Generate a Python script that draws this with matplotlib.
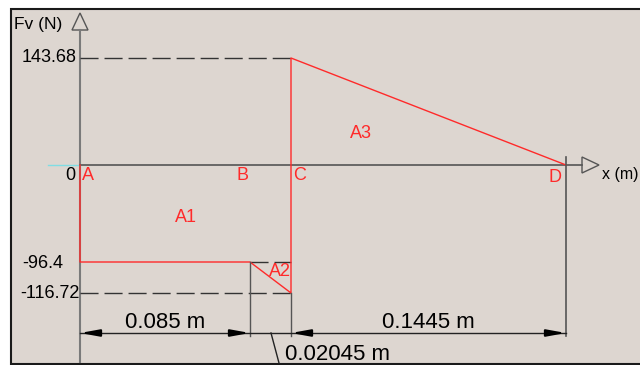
import numpy as np
import matplotlib.pyplot as plt
from matplotlib.patches import Rectangle, Polygon

plt.rcParams['font.family'] = ['Liberation Sans', 'DejaVu Sans']

# shear force diagram data
seg_len = [0.085, 0.02045, 0.1445]      # m, A-B, B-C, C-D
seg_txt = ['0.085 m', '0.02045 m', '0.1445 m']
pt_names = ['A', 'B', 'C', 'D']
v_top = 143.68     # N, just right of C
v_ab = -96.4       # N, A-B
v_c = -116.72      # N, just left of C
area_names = ['A1', 'A2', 'A3']

x_pts = np.concatenate([[0.0], np.cumsum(seg_len)])
xa, xb, xc, xd = x_pts

bg = '#DDD6D0'
red = '#ff2a2a'
dark = '#333333'
grey = '#7a7a7a'

# the sketch is not to scale -> piecewise linear scales (pixel positions of the drawing)
kx_d = [xa - 1, xa, xb, xc, xd, xd + 1]
kx_p = [80 - 2000, 80, 250, 291, 566, 566 + 2000]
ky_d = [v_c - 1000, v_c, v_ab, 0, v_top, v_top + 1000]
ky_p = [-(293 + 1000), -293, -262, -165, -58, -(58 - 745)]

def fx(v):
    return np.interp(v, kx_d, kx_p)

def fx_inv(p):
    return np.interp(p, kx_p, kx_d)

def fy(v):
    return np.interp(v, ky_d, ky_p)

def fy_inv(p):
    return np.interp(p, ky_p, ky_d)

X = lambda p: float(fx_inv(p))
Y = lambda p: float(fy_inv(-p))

fig = plt.figure(figsize=(6.4, 3.65), dpi=100)
fig.patch.set_facecolor('white')
fig.patches.append(Rectangle((0.11, 0.01), 6.5, 3.55, transform=fig.dpi_scale_trans,
                             fc=bg, ec='#1a1a1a', lw=1.5, zorder=-5))
ax = fig.add_axes([0, 0, 1, 1])
ax.set_zorder(2)
ax.set_facecolor('none')
ax.set_xscale('function', functions=(fx, fx_inv))
ax.set_yscale('function', functions=(fy, fy_inv))
ax.set_xlim(X(0), X(640))
ax.set_ylim(Y(365), Y(0))
ax.axis('off')

# axes with open arrow heads
ax.plot([xa, xa], [Y(30), Y(362)], color=grey, lw=1.5)
ax.add_patch(Polygon([(xa, Y(13)), (X(72), Y(30)), (X(88), Y(30))], closed=True,
                     fill=False, ec='#555555', lw=1))
ax.plot([X(48), xa], [0, 0], color='#80dde4', lw=1)
ax.plot([xa, X(582)], [0, 0], color='#555555', lw=1.2)
ax.add_patch(Polygon([(X(582), Y(157)), (X(582), Y(173)), (X(599), 0)], closed=True,
                     fill=False, ec='#555555', lw=1))

# dashed reference levels
dash = dict(color=dark, lw=1, dashes=(13, 4.3))
ax.plot([xa, xc], [v_top, v_top], **dash)
ax.plot([xa, xc], [v_c, v_c], **dash)
ax.plot([xb, xc], [v_ab, v_ab], **dash)

# shear force diagram
ax.plot([xa, xa, xb, xc, xc, xd], [0, v_ab, v_ab, v_c, v_top, 0], color=red, lw=1)

# extension lines and dimension line
dim_y = Y(333)
ax.plot([xb, xb], [v_ab, Y(336)], color='#555555', lw=1)
ax.plot([xc, xc], [v_c, Y(336)], color='#555555', lw=1)
ax.plot([xd, xd], [Y(157), Y(336)], color='#555555', lw=1.2)
ax.plot([xa, xd], [dim_y, dim_y], color='#222222', lw=1)
for xp, off in [(xa, 16), (xb, -16), (xc, 16), (xd, -16)]:
    ax.annotate('', xy=(xp, dim_y), xytext=(off, 0), textcoords='offset pixels',
                arrowprops=dict(arrowstyle='-|>,head_length=1.1,head_width=0.2',
                                color='black', lw=1.5, shrinkA=0, shrinkB=0))
ax.plot([X(271), X(279)], [dim_y, Y(363)], color='#222222', lw=1)
ax.text((xa + xb) / 2, Y(322), seg_txt[0], fontsize=16, ha='center', va='center')
ax.text((xc + xd) / 2, Y(322), seg_txt[2], fontsize=16, ha='center', va='center')
ax.text(X(285), Y(355), seg_txt[1], fontsize=16, ha='left', va='center')

# value labels on the vertical axis
def lab(s, xy, off, ha='center', color='black', size=13):
    ax.annotate(s, xy=xy, xytext=off, textcoords='offset pixels', ha=ha, va='center',
                fontsize=size, color=color)

lab('143.68', (xa, v_top), (-3, 0), ha='right')
lab('0', (xa, 0), (-5, -10), ha='right')
lab('-96.4', (xa, v_ab), (-17, -2), ha='right')
lab('-116.72', (xa, v_c), (0, 0), ha='right')
lab('Fv (N)', (xa, v_top), (-66, 34), ha='left', size=12.5)
lab('x (m)', (xd, 0), (36, -10), ha='left', size=11.5)

# point and area names
for name, xp, off in zip(pt_names, x_pts, [(2, -10), (-8, -10), (9, -11), (-11, -13)]):
    lab(name, (xp, 0), off, ha='left' if name == 'A' else 'center', color=red, size=13)
lab(area_names[0], ((xa + xb) / 2, v_ab / 2), (21, -4), color=red, size=13)
lab(area_names[1], (xc, v_ab), (-11, -10), color=red, size=13)
lab(area_names[2], (xc, v_top), (70, -76), color=red, size=13)

fig.savefig('out.png', dpi=100, facecolor=fig.get_facecolor())
